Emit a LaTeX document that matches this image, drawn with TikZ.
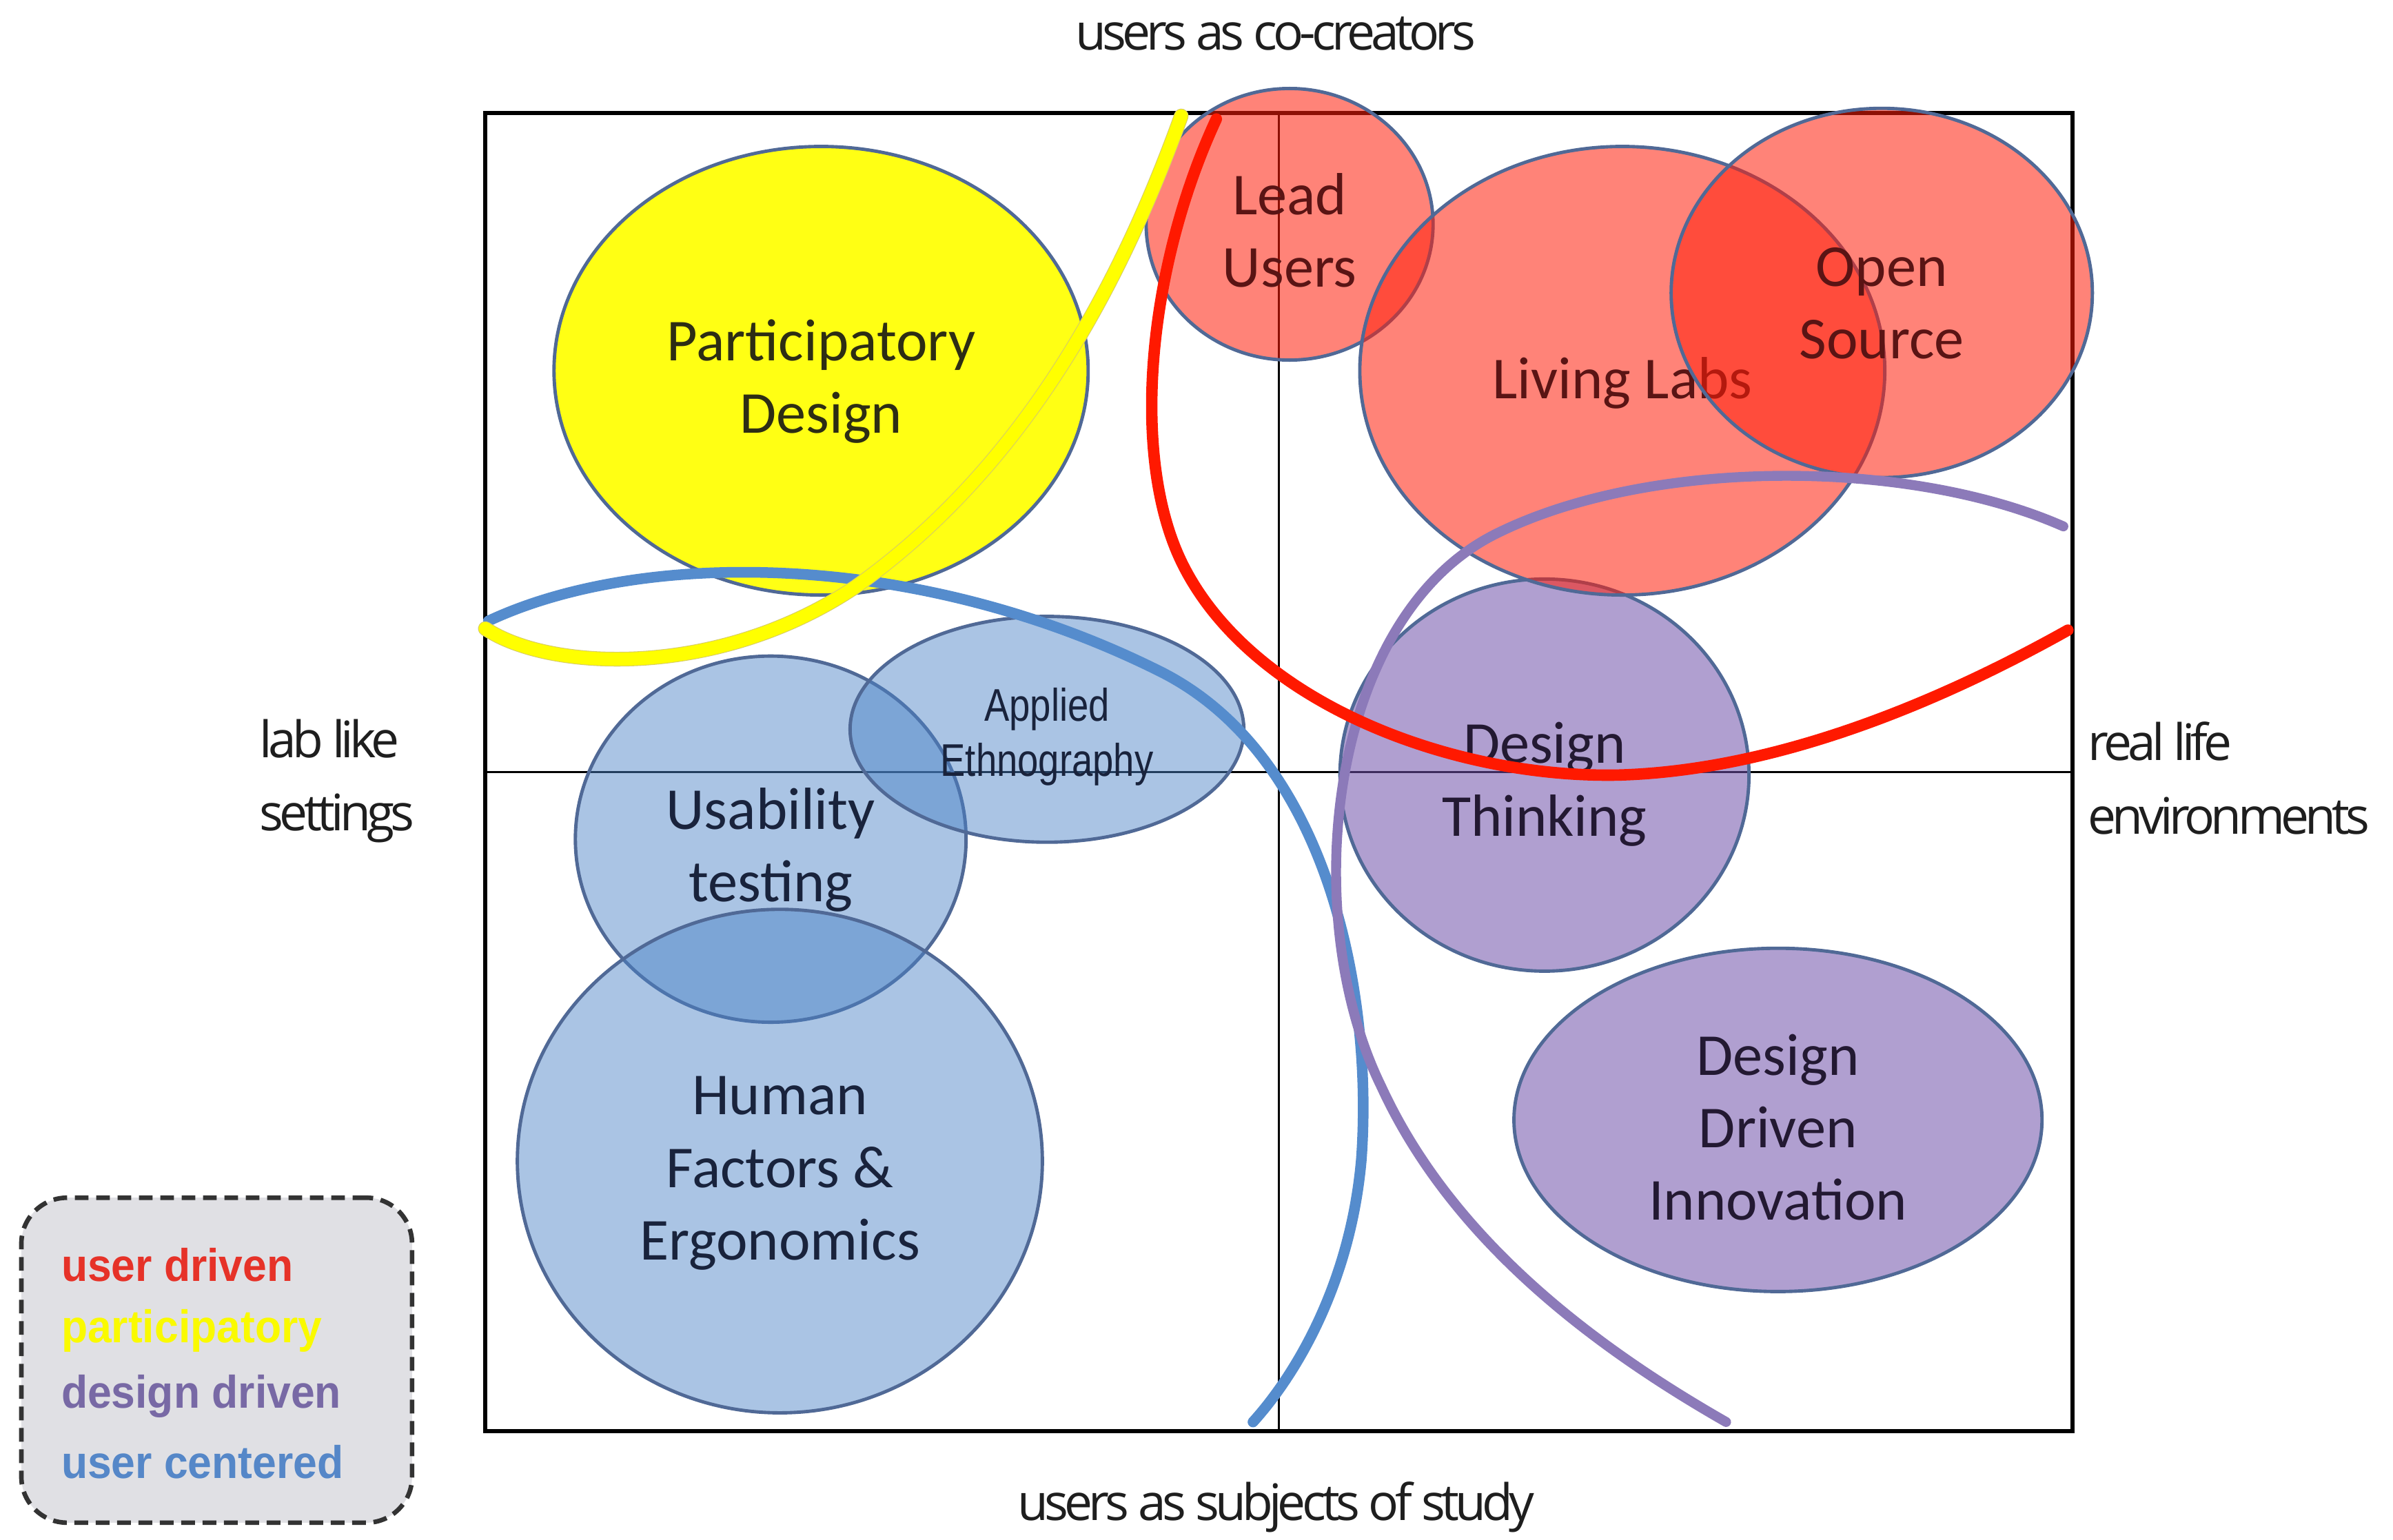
\documentclass[tikz,border=0pt]{standalone}
\usepackage{fontspec}
\setmainfont{Carlito}
\newfontfamily\axisfont{Open Sans}[LetterSpace=-8]
\newfontfamily\narrowfont{Liberation Sans}[FakeStretch=0.82]
\newfontfamily\legfont{Liberation Sans}[FakeStretch=0.94]
\usetikzlibrary{shapes.geometric}
\definecolor{redfill}{RGB}{255,30,10}
\definecolor{bluefill}{RGB}{74,130,198}
\definecolor{purpfill}{RGB}{112,80,170}
\definecolor{yelfill}{RGB}{255,255,20}
\definecolor{bubstroke}{RGB}{80,105,150}
\definecolor{redtext}{RGB}{90,20,20}
\definecolor{bluetext}{RGB}{25,35,60}
\definecolor{purptext}{RGB}{35,25,50}
\definecolor{yeltext}{RGB}{45,45,20}
\definecolor{redc}{RGB}{255,25,0}
\definecolor{yelc}{RGB}{255,255,0}
\definecolor{yelshadow}{RGB}{215,205,100}
\definecolor{bluec}{RGB}{85,140,205}
\definecolor{purpc}{RGB}{140,122,185}
\definecolor{legred}{RGB}{230,50,40}
\definecolor{legyel}{RGB}{250,250,0}
\definecolor{legpurp}{RGB}{120,105,165}
\definecolor{legblue}{RGB}{85,135,200}
\definecolor{legfill}{RGB}{224,224,228}
\definecolor{axistext}{RGB}{30,30,30}
\newcommand\bubsize{\fontsize{39}{47.5}\selectfont}
\newcommand\axsize{\fontsize{33}{48}\selectfont}
\tikzset{
  bub/.style={ellipse, draw=bubstroke, line width=2.2pt, inner sep=0pt},
  bubtext/.style={inner sep=0pt, align=center, font=\bubsize},
  redb/.style={bub, fill=redfill, fill opacity=0.55},
  blueb/.style={bub, fill=bluefill, fill opacity=0.47},
  purpb/.style={bub, fill=purpfill, fill opacity=0.55},
  yelb/.style={bub, fill=yelfill},
  axlabel/.style={font=\axisfont\axsize, text=axistext, inner sep=0pt, align=left},
  curve/.style={line width=#1, line cap=round},
  legtext/.style={font=\legfont\bfseries\fontsize{30}{34}\selectfont, inner sep=0pt, anchor=west},
}
\begin{document}
\begin{tikzpicture}[x=1pt, y=-1pt]
\useasboundingbox (0,0) rectangle (1568,1009);
% quadrant frame
\draw[line width=3pt] (318,74) rectangle (1358,938);
\draw[line width=1.4pt] (838,74) -- (838,938);
\draw[line width=1.4pt] (318,506) -- (1358,506);
% axis labels
\node[axlabel, anchor=center] (top) at (836,22) {users as co-creators};
\node[axlabel, anchor=center] (bottom) at (836,988) {users as subjects of study};
\node[axlabel, anchor=west] (left) at (170,512) {lab like\\settings};
\node[axlabel, anchor=west] (right) at (1368,510) {real life\\environments};
% bubbles
\node[yelb, minimum width=350, minimum height=294] (pd) at (538,243) {};
\node[bubtext, text=yeltext] (pdt) at ([yshift=-7pt]pd.center) {Participatory\\Design};
\node[blueb, minimum width=256, minimum height=240] (ut) at (505,550) {};
\node[bubtext, text=bluetext] (utt) at ([yshift=-7pt]ut.center) {Usability\\testing};
\node[blueb, minimum width=258, minimum height=148] (ae) at (686,478) {};
\node[bubtext, text=bluetext, font=\narrowfont\fontsize{30}{36}\selectfont] (aet) at ([yshift=-5pt]ae.center) {Applied\\Ethnography};
\node[blueb, minimum width=344, minimum height=330] (hf) at (511,761) {};
\node[bubtext, text=bluetext] (hft) at ([yshift=-8pt]hf.center) {Human\\Factors \&\\Ergonomics};
\node[purpb, minimum width=268, minimum height=257] (dt) at (1012,508) {};
\node[bubtext, text=purptext] (dtt) at ([yshift=-6pt]dt.center) {Design\\Thinking};
\node[purpb, minimum width=346, minimum height=225] (ddi) at (1165,734) {};
\node[bubtext, text=purptext] (ddit) at ([yshift=-5pt]ddi.center) {Design\\Driven\\Innovation};
\node[redb, minimum width=188, minimum height=178] (lu) at (845,147) {};
\node[bubtext, text=redtext] (lut) at ([yshift=-4pt]lu.center) {Lead\\Users};
\node[redb, minimum width=344, minimum height=294] (ll) at (1063,243) {};
\node[bubtext, text=redtext] (llt) at ([yshift=-8pt]ll.center) {Living Labs};
\node[redb, minimum width=276, minimum height=242] (os) at (1233,192) {};
\node[bubtext, text=redtext] (ost) at ([yshift=-7pt]os.center) {Open\\Source};
% curves
\coordinate (b0) at (320,407);
\coordinate (b1) at (760,440);
\coordinate (b2) at (892,760);
\coordinate (b3) at (821,932);
\draw[curve=7pt, bluec] (b0) .. controls (420,360) and (600,360) .. (b1)
  .. controls (870,495) and (900,650) .. (b2)
  .. controls (885,840) and (850,900) .. (b3);
\coordinate (p0) at (1352,345);
\coordinate (p1) at (980,350);
\coordinate (p2) at (905,712);
\coordinate (p3) at (1131,932);
\draw[curve=6.5pt, purpc] (p0) .. controls (1250,300) and (1080,300) .. (p1)
  .. controls (870,405) and (850,600) .. (p2)
  .. controls (950,810) and (1040,880) .. (p3);
\coordinate (r0) at (797,78);
\coordinate (r1) at (775,370);
\coordinate (r2) at (1060,508);
\coordinate (r3) at (1355,413);
\draw[curve=7.5pt, redc] (r0) .. controls (752,175) and (740,300) .. (r1)
  .. controls (820,460) and (950,510) .. (r2)
  .. controls (1170,505) and (1280,455) .. (r3);
\coordinate (y0) at (774,76);
\coordinate (y1) at (560,385);
\coordinate (y2) at (318,412);
\draw[curve=9.6pt, yelshadow] (y0) .. controls (740,170) and (680,300) .. (y1)
  .. controls (470,445) and (360,440) .. (y2);
\draw[curve=8.6pt, yelc] (y0) .. controls (740,170) and (680,300) .. (y1)
  .. controls (470,445) and (360,440) .. (y2);
% legend
\node[draw=black!80, line width=3pt, dash pattern=on 9pt off 5pt, fill=legfill, rounded corners=30pt, minimum width=256, minimum height=213, inner sep=0pt] (legend) at (142,891.5) {};
\node[legtext, text=legred] (l1) at (40,829) {user driven};
\node[legtext, text=legyel] (l2) at (40,872) {participatory};
\node[legtext, text=legpurp] (l3) at (40,915) {design driven};
\node[legtext, text=legblue] (l4) at (40,958) {user centered};
\end{tikzpicture}
\end{document}
